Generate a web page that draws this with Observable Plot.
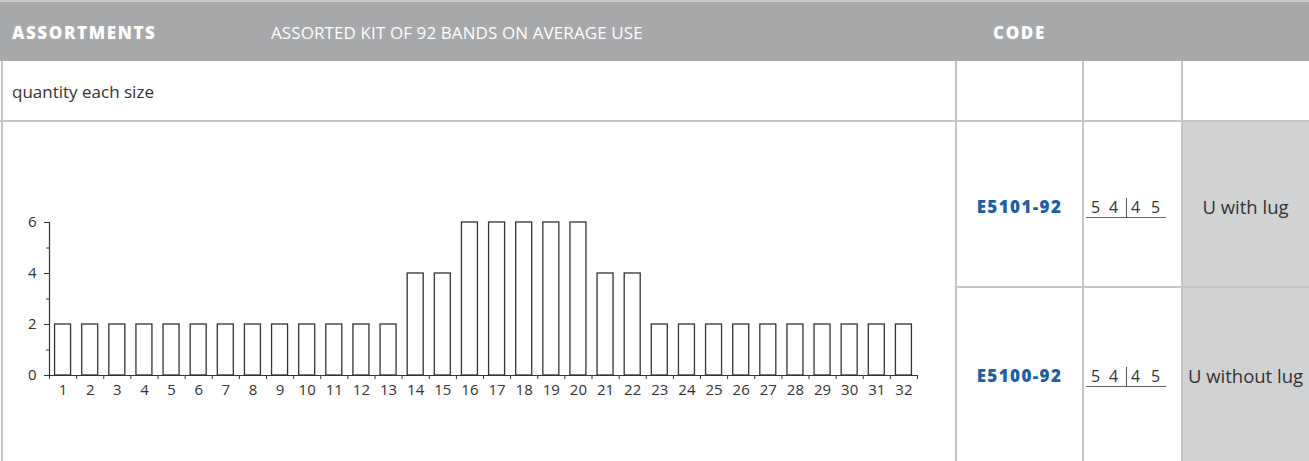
<!DOCTYPE html>
<html>
<head>
<meta charset="utf-8">
<script src="https://cdn.jsdelivr.net/npm/d3@7"></script>
<script src="https://cdn.jsdelivr.net/npm/@observablehq/plot@0.6"></script>
<style>
  html, body { margin: 0; padding: 0; background: #fff; }
  #page { position: relative; width: 1309px; height: 461px; overflow: hidden; font-family: "Open Sans", Lato, sans-serif; color: #333; }
  .abs { position: absolute; white-space: nowrap; }
  .hdr { background: #a7a8aa; left: 0; top: 2px; width: 1309px; height: 59px; }
  .hline { height: 2px; background: #c4c5c7; }
  .vline { width: 2px; background: #c4c5c7; }
  .htxt { color: #fff; font-size: 17px; top: 21px; line-height: 24px; }
  .bold { font-weight: 800; letter-spacing: 1.6px; }
  .code { color: #1b5faa; font-weight: 800; font-size: 17px; letter-spacing: 1.4px; width: 127px; text-align: center; left: 956px; line-height: 22px; }
  .desc { font-size: 18.5px; width: 127px; text-align: center; left: 1182px; line-height: 22px; color: #333; }
  .frac { left: 1086px; width: 80px; height: 20px; border-bottom: 1.5px solid #666; font-size: 16px; line-height: 20px; color: #333; }
  .frac span { position: absolute; top: 0; }
  .frac .bar { left: 40px; top: 1px; width: 0; height: 20px; border-left: 1.5px solid #555; }
</style>
</head>
<body>
<div id="page">
  <div class="abs" style="left:0;top:0;width:1309px;height:2px;background:#c9cacc;"></div>
  <div class="abs hdr"></div>
  <div class="abs htxt bold" style="left:12px;">ASSORTMENTS</div>
  <div class="abs htxt" style="left:271px;letter-spacing:0.1px;">ASSORTED KIT OF 92 BANDS ON AVERAGE USE</div>
  <div class="abs htxt bold" style="left:956px;width:127px;text-align:center;">CODE</div>

  <div class="abs" style="left:12px;top:81px;font-size:17px;line-height:22px;">quantity each size</div>

  <div class="abs" style="left:1182px;top:121px;width:127px;height:340px;background:#d1d2d4;"></div>

  <div class="abs hline" style="left:0;top:120px;width:1309px;"></div>
  <div class="abs hline" style="left:955px;top:286px;width:354px;"></div>
  <div class="abs vline" style="left:1px;top:61px;height:400px;"></div>
  <div class="abs vline" style="left:955px;top:61px;height:400px;"></div>
  <div class="abs vline" style="left:1082px;top:61px;height:400px;"></div>
  <div class="abs vline" style="left:1181px;top:61px;height:400px;"></div>

  <div id="chart" class="abs" style="left:0;top:121px;"></div>

  <div id="cells"></div>
</div>
<script>
// ---- data ----
const sizes = d3.range(1, 33);
const quantities = [2,2,2,2,2,2,2,2,2,2,2,2,2,4,4,6,6,6,6,6,4,4,2,2,2,2,2,2,2,2,2,2];
const yMajorTicks = [0, 2, 4, 6];
const yMinorTicks = [1, 3, 5];
const codes = ["E5101-92", "E5100-92"];
const descriptions = ["U with lug", "U without lug"];
const fracDigits = ["5", "4", "4", "5"];

const data = sizes.map((s, i) => ({size: s, qty: quantities[i]}));

// ---- chart ----
const width = 940, height = 340, ml = 49, mr = 23, mt = 101, mb = 86;
const step = (width - ml - mr) / sizes.length;

const chart = Plot.plot({
  width, height,
  marginLeft: ml, marginRight: mr, marginTop: mt, marginBottom: mb,
  style: {fontSize: "15px", fontFamily: "'Open Sans', Lato, sans-serif", color: "#333", background: "transparent", overflow: "visible"},
  x: {domain: sizes, paddingInner: 0.41, paddingOuter: 0.205, round: false, label: null},
  y: {domain: [0, 6], label: null},
  marks: [
    Plot.barY(data, {x: "size", y: "qty", fill: "white", stroke: "#333", strokeWidth: 1.3}),
    Plot.ruleY([0], {stroke: "#333", strokeWidth: 1.2}),
    Plot.frame({anchor: "left", stroke: "#333", strokeWidth: 1.2}),
    Plot.axisY(yMajorTicks, {tickSize: 5, tickPadding: 8, stroke: "#333"}),
    Plot.axisY(yMinorTicks, {tickSize: 3, tickFormat: () => "", stroke: "#333"}),
    Plot.axisX({tickSize: 0, tickPadding: 9}),
    Plot.axisX(sizes, {tickSize: 4, tickFormat: () => "", dx: -step / 2, stroke: "#333"}),
    Plot.axisX(sizes.slice(-1), {tickSize: 4, tickFormat: () => "", dx: step / 2, stroke: "#333"})
  ]
});
document.getElementById("chart").appendChild(chart);

// ---- table cells ----
const cells = document.getElementById("cells");
const rowTops = [196, 365];
const digitLefts = [5, 23, 45, 65];
codes.forEach((c, i) => {
  const top = rowTops[i];
  const digits = fracDigits.map((d, k) => `<span style="left:${digitLefts[k]}px;">${d}</span>`).join("");
  cells.insertAdjacentHTML("beforeend",
    `<div class="abs code" style="top:${top}px;">${c}</div>` +
    `<div class="abs frac" style="top:${top + 1}px;">${digits}<span class="bar"></span></div>` +
    `<div class="abs desc" style="top:${top}px;">${descriptions[i]}</div>`);
});
</script>
</body>
</html>
